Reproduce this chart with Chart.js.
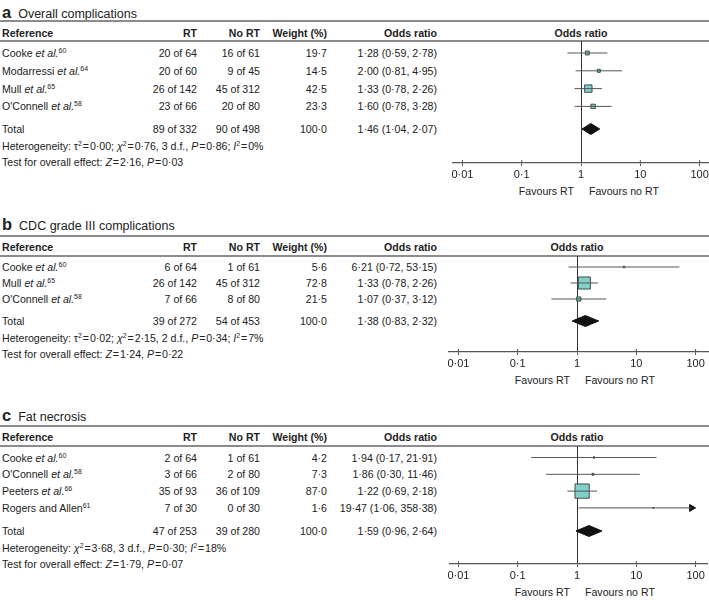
<!DOCTYPE html>
<html>
<head>
<meta charset="utf-8">
<script src="https://cdn.jsdelivr.net/npm/chart.js@4.4.0/dist/chart.umd.min.js"></script>
<style>
body { margin:0; width:709px; height:600px; background:#fff; font-family:"Liberation Sans", Arial, sans-serif; color:#222; position:relative; overflow:hidden; }
.t { position:absolute; font-size:10.6px; line-height:14px; white-space:nowrap; }
.b { font-weight:bold; }
.rule { position:absolute; left:0; width:709px; height:0; border-top:2px solid #8c8c8c; }
.title { position:absolute; left:2px; font-size:12.5px; line-height:16px; white-space:nowrap; }
.title b { font-size:16.5px; margin-right:7px; }
sup { font-size:7px; vertical-align:4px; line-height:0; }
.plot { position:absolute; }
</style>
</head>
<body>
<script>
const tickValues = [0.01, 0.1, 1, 10, 100];

// a  Overall complications
const studiesA = ['Cooke', 'Modarressi', 'Mull', "O'Connell"];
const etAlA = [true, true, true, true];
const refsA = [60, 64, 65, 58];
const rtEventsA = [20, 20, 26, 23];
const rtTotalA = [64, 60, 142, 66];
const noEventsA = [16, 9, 45, 20];
const noTotalA = [61, 45, 312, 80];
const weightA = [19.7, 14.5, 42.5, 23.3];
const orA = [1.28, 2.00, 1.33, 1.60];
const lowA = [0.59, 0.81, 0.78, 0.78];
const highA = [2.78, 4.95, 2.26, 3.28];
const totalRtA = [89, 332];
const totalNoA = [90, 498];
const totalOrA = [1.46, 1.04, 2.07];
const hetA = [0.00, 0.76, 3, 0.86, 0];   // tau2, chi2, df, P, I2
const testA = [2.16, 0.03];              // Z, P

// b  CDC grade III complications
const studiesB = ['Cooke', 'Mull', "O'Connell"];
const etAlB = [true, true, true];
const refsB = [60, 65, 58];
const rtEventsB = [6, 26, 7];
const rtTotalB = [64, 142, 66];
const noEventsB = [1, 45, 8];
const noTotalB = [61, 312, 80];
const weightB = [5.6, 72.8, 21.5];
const orB = [6.21, 1.33, 1.07];
const lowB = [0.72, 0.78, 0.37];
const highB = [53.15, 2.26, 3.12];
const totalRtB = [39, 272];
const totalNoB = [54, 453];
const totalOrB = [1.38, 0.83, 2.32];
const hetB = [0.02, 2.15, 2, 0.34, 7];
const testB = [1.24, 0.22];

// c  Fat necrosis
const studiesC = ['Cooke', "O'Connell", 'Peeters', 'Rogers and Allen'];
const etAlC = [true, true, true, false];
const refsC = [60, 58, 66, 61];
const rtEventsC = [2, 3, 35, 7];
const rtTotalC = [64, 66, 93, 30];
const noEventsC = [1, 2, 36, 0];
const noTotalC = [61, 80, 109, 30];
const weightC = [4.2, 7.3, 87.0, 1.6];
const orC = [1.94, 1.86, 1.22, 19.47];
const lowC = [0.17, 0.30, 0.69, 1.06];
const highC = [21.91, 11.46, 2.18, 358.38];
const totalRtC = [47, 253];
const totalNoC = [39, 280];
const totalOrC = [1.59, 0.96, 2.64];
const hetC = [null, 3.68, 3, 0.30, 18];
const testC = [1.79, 0.07];

const panels = [
  { letter: 'a', title: 'Overall complications', studies: studiesA, etAl: etAlA, refs: refsA,
    rtE: rtEventsA, rtN: rtTotalA, noE: noEventsA, noN: noTotalA, weight: weightA,
    or: orA, low: lowA, high: highA, totRt: totalRtA, totNo: totalNoA, totOr: totalOrA, het: hetA, test: testA,
    g: { titleY: 12, topRule: 21, headY: 33, headRule: 41, firstRow: 53, rowH: 17.8, totGap: 0.27, axisY: 163, cx: 581, axL: 453, axR: 709 } },
  { letter: 'b', title: 'CDC grade III complications', studies: studiesB, etAl: etAlB, refs: refsB,
    rtE: rtEventsB, rtN: rtTotalB, noE: noEventsB, noN: noTotalB, weight: weightB,
    or: orB, low: lowB, high: highB, totRt: totalRtB, totNo: totalNoB, totOr: totalOrB, het: hetB, test: testB,
    g: { titleY: 224, topRule: 236, headY: 247, headRule: 256, firstRow: 267, rowH: 16, totGap: 0.375, axisY: 352, cx: 577, axL: 449, axR: 709 } },
  { letter: 'c', title: 'Fat necrosis', studies: studiesC, etAl: etAlC, refs: refsC,
    rtE: rtEventsC, rtN: rtTotalC, noE: noEventsC, noN: noTotalC, weight: weightC,
    or: orC, low: lowC, high: highC, totRt: totalRtC, totNo: totalNoC, totOr: totalOrC, het: hetC, test: testC,
    g: { titleY: 415, topRule: 426, headY: 437, headRule: 446, firstRow: 457.5, rowH: 16.8, totGap: 0.375, axisY: 564, cx: 577, axL: 450, axR: 708 } }
];

const DECADE = 59.3;   // px per log10 unit
const AXIS_H = 36;
const PAD_L = 16;      // room for the first tick label left of the axis line
const cols = { rt: 197, no: 260, weight: 327, or: 437 };

function num(v, d) { return v.toFixed(d).replace('.', '\u00b7'); }
function orText(o, l, h) { return num(o, 2) + ' (' + num(l, 2) + ', ' + num(h, 2) + ')'; }
function eq(sym, val) { return sym + '\u200a=\u200a' + val; }

function addText(html, y, opts) {
  const d = document.createElement('div');
  d.className = 't' + (opts.bold ? ' b' : '');
  d.innerHTML = html;
  d.style.top = (y - 7) + 'px';
  if (opts.right !== undefined) d.style.right = (709 - opts.right) + 'px';
  else d.style.left = opts.left + 'px';
  document.body.appendChild(d);
  if (opts.center !== undefined) d.style.left = (opts.center - d.offsetWidth / 2) + 'px';
  return d;
}
function addRule(y) {
  const d = document.createElement('div');
  d.className = 'rule';
  d.style.top = (y - 1) + 'px';
  document.body.appendChild(d);
}

const tickUp = {
  id: 'tickUp',
  afterDraw(chart) {
    const sx = chart.scales.x, ctx = chart.ctx, y0 = chart.chartArea.bottom;
    ctx.save();
    ctx.strokeStyle = '#555';
    ctx.lineWidth = 1;
    tickValues.forEach(v => {
      if (v === 1) return;
      const px = sx.getPixelForValue(v);
      ctx.beginPath(); ctx.moveTo(px, y0); ctx.lineTo(px, y0 - 3); ctx.stroke();
    });
    ctx.restore();
  }
};

panels.forEach(p => {
  const g = p.g;
  const n = p.studies.length;
  const rowY = i => g.firstRow + i * g.rowH;
  const totIdx = n + g.totGap;
  const totY = rowY(totIdx);

  // title and table
  const t = document.createElement('div');
  t.className = 'title';
  t.innerHTML = '<b>' + p.letter + '</b>' + p.title;
  t.style.top = (g.titleY - 8) + 'px';
  document.body.appendChild(t);
  addRule(g.topRule);
  addRule(g.headRule);

  addText('Reference', g.headY, { left: 2, bold: true });
  addText('RT', g.headY, { right: cols.rt, bold: true });
  addText('No RT', g.headY, { right: cols.no, bold: true });
  addText('Weight (%)', g.headY, { right: cols.weight, bold: true });
  addText('Odds ratio', g.headY, { right: cols.or, bold: true });
  addText('Odds ratio', g.headY, { center: g.cx, bold: true });

  p.studies.forEach((s, i) => {
    const y = rowY(i);
    addText(s + (p.etAl[i] ? ' <i>et al.</i>' : '') + '<sup>' + p.refs[i] + '</sup>', y, { left: 2 });
    addText(p.rtE[i] + ' of ' + p.rtN[i], y, { right: cols.rt });
    addText(p.noE[i] + ' of ' + p.noN[i], y, { right: cols.no });
    addText(num(p.weight[i], 1), y, { right: cols.weight });
    addText(orText(p.or[i], p.low[i], p.high[i]), y, { right: cols.or });
  });
  addText('Total', totY, { left: 2 });
  addText(p.totRt[0] + ' of ' + p.totRt[1], totY, { right: cols.rt });
  addText(p.totNo[0] + ' of ' + p.totNo[1], totY, { right: cols.no });
  addText(num(100, 1), totY, { right: cols.weight });
  addText(orText(p.totOr[0], p.totOr[1], p.totOr[2]), totY, { right: cols.or });

  const h = p.het;
  let het = 'Heterogeneity: ';
  if (h[0] !== null) het += eq('\u03c4<sup>2</sup>', num(h[0], 2)) + '; ';
  het += eq('<i>\u03c7</i><sup>2</sup>', num(h[1], 2)) + ', ' + h[2] + ' d.f., ' +
         eq('<i>P</i>', num(h[3], 2)) + '; ' + eq('<i>I</i><sup>2</sup>', h[4] + '%');
  addText(het, totY + 17, { left: 2 });
  addText('Test for overall effect: ' + eq('<i>Z</i>', num(p.test[0], 2)) + ', ' + eq('<i>P</i>', num(p.test[1], 2)), totY + 33, { left: 2 });

  addText('Favours RT', g.axisY + 28, { right: g.cx - 7 });
  addText('Favours no RT', g.axisY + 28, { left: g.cx + 8 });

  // forest plot
  const wrap = document.createElement('div');
  wrap.className = 'plot';
  wrap.style.left = (g.axL - PAD_L) + 'px';
  wrap.style.top = g.headRule + 'px';
  wrap.style.width = (g.axR - g.axL + PAD_L) + 'px';
  wrap.style.height = (g.axisY - g.headRule + AXIS_H) + 'px';
  const cv = document.createElement('canvas');
  wrap.appendChild(cv);
  document.body.appendChild(wrap);

  const xMin = Math.pow(10, (g.axL - g.cx) / DECADE);
  const xMax = Math.pow(10, (g.axR - g.cx) / DECADE);
  const clipHi = tickValues[tickValues.length - 1];
  const arrowR = 4;
  const arrowX = clipHi / Math.pow(10, arrowR / DECADE);

  const datasets = [];
  p.studies.forEach((s, i) => {
    const hi = p.high[i] > clipHi ? arrowX : p.high[i];
    datasets.push({ type: 'line', data: [{ x: p.low[i], y: i }, { x: hi, y: i }],
      borderColor: '#555', borderWidth: 1, pointRadius: 0, fill: false });
    if (p.high[i] > clipHi) {
      datasets.push({ type: 'scatter', data: [{ x: arrowX, y: i }], pointStyle: 'triangle',
        rotation: 90, pointRadius: arrowR, backgroundColor: '#111', borderColor: '#111', borderWidth: 1 });
    }
  });
  datasets.push({
    type: 'scatter',
    data: p.or.map((v, i) => ({ x: v, y: i })),
    pointStyle: 'rect',
    pointRadius: p.weight.map(w => (0.155 * w + 0.8) / Math.SQRT2),
    backgroundColor: '#82d0ca',
    borderColor: '#2f3d3d',
    borderWidth: 0.9
  });
  const dh = 5.5 / g.rowH;
  const [to, tl, th] = p.totOr;
  datasets.push({
    type: 'line',
    data: [{ x: tl, y: totIdx }, { x: to, y: totIdx - dh }, { x: th, y: totIdx }, { x: to, y: totIdx + dh }, { x: tl, y: totIdx }],
    borderColor: '#111', borderWidth: 1, backgroundColor: '#111', fill: 'shape', pointRadius: 0, tension: 0
  });

  new Chart(cv, {
    type: 'scatter',
    data: { datasets },
    plugins: [tickUp],
    options: {
      responsive: true,
      maintainAspectRatio: false,
      animation: false,
      layout: { autoPadding: false, padding: { left: PAD_L, right: 0, top: 0, bottom: 0 } },
      plugins: { legend: { display: false }, tooltip: { enabled: false } },
      scales: {
        x: {
          type: 'logarithmic',
          bounds: 'data',
          min: xMin,
          max: xMax,
          afterBuildTicks: sc => {
            sc.ticks = tickValues.map(v => ({ value: v }));
            sc.min = xMin;
            sc.max = xMax;
          },
          afterFit: sc => { sc.height = AXIS_H; sc.paddingLeft = 0; sc.paddingRight = 0; },
          ticks: {
            autoSkip: false,
            maxRotation: 0,
            padding: 2,
            color: '#222',
            font: { family: '"Liberation Sans", Arial, sans-serif', size: 11 },
            callback: v => String(v).replace('.', '\u00b7')
          },
          grid: {
            drawOnChartArea: true,
            drawTicks: true,
            tickLength: 3,
            tickColor: '#555',
            color: c => (c.tick && c.tick.value === 1) ? '#333' : 'rgba(0,0,0,0)',
            lineWidth: 1
          },
          border: { display: true, color: '#555', width: 1.3 }
        },
        y: {
          display: false,
          reverse: true,
          min: (g.headRule - g.firstRow) / g.rowH,
          max: (g.axisY - g.firstRow) / g.rowH
        }
      }
    }
  });
});
</script>
</body>
</html>
